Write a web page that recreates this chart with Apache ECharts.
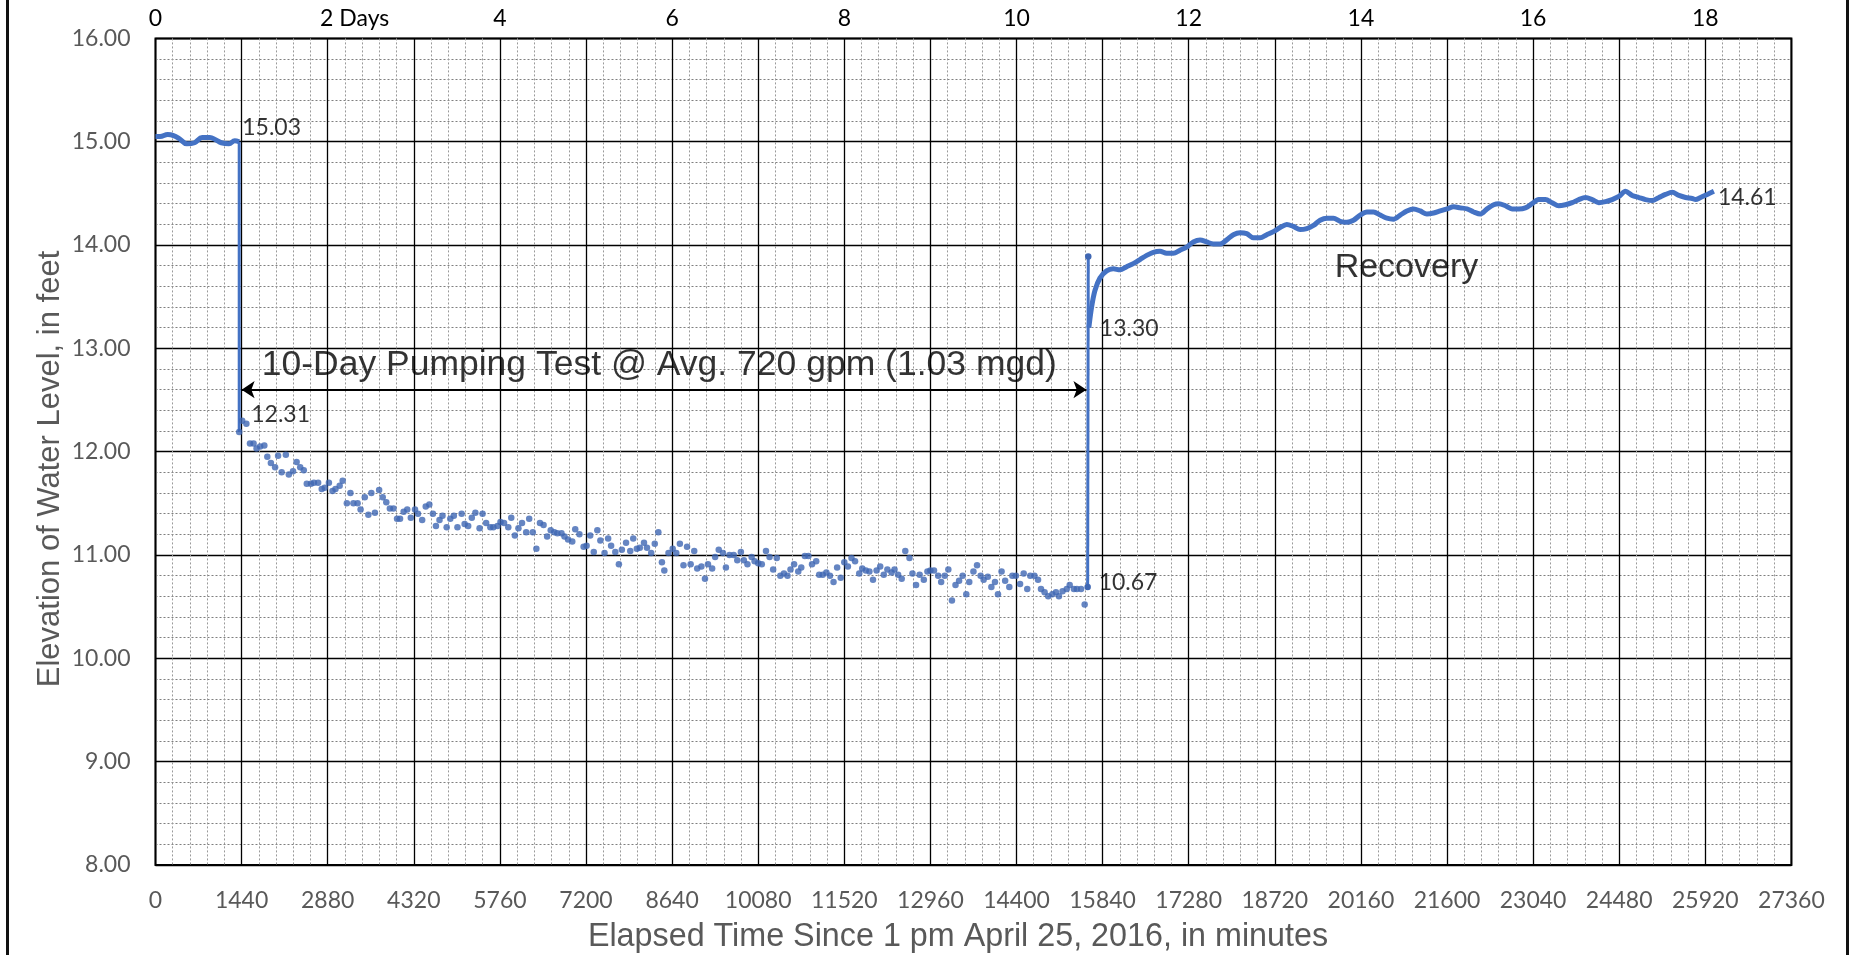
<!DOCTYPE html>
<html>
<head>
<meta charset="utf-8">
<title>Water level - 10-day pumping test</title>
<script src="https://cdn.jsdelivr.net/npm/echarts@6.0.0/dist/echarts.min.js"></script>
<style>
  html, body { margin: 0; padding: 0; background: #fff; }
  #chart { width: 1851px; height: 955px; }
</style>
</head>
<body>
<div id="chart"></div>
<script>
// elapsed minutes / water level elevation (ft)
var preTimes  = [0, 77, 205, 301, 397, 525, 653, 781, 909, 1005, 1101, 1229, 1325, 1400];
var preLevels = [15.05, 15.05, 15.07, 15.06, 15.03, 14.98, 14.99, 15.04, 15.04, 15.02, 14.99, 14.98, 15.01, 15.00];

var pumpTimes = [1400, 1450, 1520,
  1580, 1640, 1690, 1750, 1820, 1870, 1930, 2000, 2050, 2110, 2180, 2230, 2300, 2360, 2420, 2480,
  2530, 2600, 2650, 2720, 2780, 2830, 2900, 2960, 3010, 3080, 3130, 3200, 3260, 3310, 3380, 3430,
  3500, 3560, 3610, 3670, 3740, 3800, 3860, 3920, 3980, 4040, 4090, 4150, 4210, 4270, 4340, 4390,
  4460, 4520, 4580, 4640, 4690, 4750, 4800, 4870, 4930, 4990, 5050, 5120, 5170, 5230, 5290, 5350,
  5420, 5470, 5530, 5600, 5650, 5720, 5770, 5830, 5900, 5950, 6010, 6070, 6130, 6200, 6250, 6310,
  6370, 6430, 6490, 6550, 6610, 6670, 6720, 6790, 6840, 6900, 6970, 7020, 7090, 7160, 7210, 7270,
  7330, 7390, 7440, 7510, 7570, 7620, 7690, 7750, 7800, 7870, 7940, 7990, 8050, 8100, 8170, 8220,
  8290, 8350, 8410, 8470, 8510,
  8580, 8650, 8710, 8770, 8830, 8890, 8950, 9010, 9060, 9130, 9190, 9240, 9310, 9360, 9420, 9490,
  9540, 9600, 9670, 9730, 9790, 9840, 9900, 9970, 10020, 10080, 10140, 10210, 10270, 10330, 10390,
  10450, 10510, 10570, 10620, 10680, 10750, 10800, 10860, 10920, 10980, 11050, 11100, 11160, 11220,
  11280, 11340, 11400, 11460, 11520, 11580, 11640, 11700, 11770, 11820, 11880, 11940, 12000, 12060,
  12120, 12180, 12240, 12310, 12360, 12420, 12480, 12540, 12610, 12660, 12720, 12780, 12850, 12910,
  12960, 13020, 13090, 13140, 13200, 13260, 13320, 13380, 13440, 13500, 13560, 13610, 13680, 13740,
  13800, 13850, 13920, 13980, 14040, 14090, 14150, 14210, 14280, 14330, 14390, 14460, 14520, 14580,
  14630, 14700, 14760, 14810, 14870, 14930, 15000, 15060, 15110, 15170, 15240, 15290, 15360, 15410,
  15480, 15540];
var pumpLevels = [12.19, 12.30, 12.27,
  12.08, 12.08, 12.03, 12.05, 12.06, 11.95, 11.89, 11.85, 11.96, 11.80, 11.97, 11.78, 11.81, 11.90, 11.85, 11.82,
  11.69, 11.69, 11.70, 11.70, 11.64, 11.65, 11.70, 11.62, 11.64, 11.67, 11.72, 11.50, 11.60, 11.50, 11.50, 11.44,
  11.56, 11.39, 11.60, 11.41, 11.63, 11.56, 11.51, 11.45, 11.45, 11.35, 11.35, 11.42, 11.44, 11.36, 11.44, 11.40,
  11.34, 11.47, 11.49, 11.40, 11.28, 11.34, 11.38, 11.27, 11.35, 11.38, 11.27, 11.40, 11.30, 11.28, 11.36, 11.41,
  11.26, 11.40, 11.31, 11.27, 11.27, 11.28, 11.32, 11.31, 11.27, 11.36, 11.19, 11.26, 11.31, 11.22, 11.35, 11.22,
  11.06, 11.31, 11.29, 11.18, 11.24, 11.22, 11.21, 11.21, 11.18, 11.15, 11.13, 11.25, 11.20, 11.08, 11.09, 11.19,
  11.03, 11.24, 11.14, 11.02, 11.16, 11.09, 11.03, 10.91, 11.05, 11.12, 11.04, 11.16, 11.06, 11.07, 11.12, 11.07,
  11.02, 11.11, 11.22, 10.93, 10.85,
  11.02, 11.06, 11.02, 11.11, 10.90, 11.08, 10.91, 11.04, 10.87, 10.89, 10.77, 10.91, 10.87, 10.98, 11.05, 11.02,
  10.88, 11.00, 11.00, 10.95, 11.03, 10.95, 10.91, 10.98, 10.94, 10.92, 10.91, 11.04, 10.98, 10.86, 10.97,
  10.80, 10.82, 10.80, 10.86, 10.91, 10.84, 10.88, 10.99, 10.99, 10.91, 10.94, 10.81, 10.81, 10.83,
  10.80, 10.74, 10.88, 10.78, 10.93, 10.89, 10.97, 10.94, 10.82, 10.87, 10.85, 10.84, 10.76, 10.85,
  10.89, 10.81, 10.86, 10.83, 10.86, 10.81, 10.77, 11.04, 10.97, 10.82, 10.71, 10.81, 10.76, 10.84,
  10.85, 10.85, 10.80, 10.74, 10.80, 10.86, 10.56, 10.71, 10.75, 10.80, 10.62, 10.74, 10.84, 10.90,
  10.80, 10.76, 10.79, 10.69, 10.74, 10.62, 10.84, 10.75, 10.69, 10.80, 10.80, 10.72, 10.82, 10.67,
  10.80, 10.80, 10.76, 10.67, 10.64, 10.60, 10.62, 10.64, 10.60, 10.65, 10.67, 10.71, 10.67, 10.67,
  10.67, 10.52];

var jumpTimes  = [15590, 15600];
var jumpLevels = [10.69, 13.89];

var recTimes = [15610, 15656, 15712, 15795, 15907, 16019, 16130, 16242, 16353, 16465, 16577, 16688,
  16800, 16911, 17023, 17135, 17246, 17358, 17469, 17581, 17693, 17804, 17916, 18027, 18139, 18250,
  18362, 18474, 18585, 18697, 18809, 18920, 19032, 19144, 19255, 19367, 19478, 19590, 19702, 19813,
  19925, 20036, 20148, 20260, 20371, 20483, 20594, 20706, 20818, 20929, 21041, 21152, 21264, 21376,
  21487, 21600, 21712, 21823, 21935, 22046, 22158, 22270, 22381, 22465, 22577, 22688, 22800, 22911,
  23023, 23135, 23246, 23358, 23469, 23581, 23693, 23804, 23916, 24027, 24139, 24251, 24362, 24474,
  24585, 24697, 24809, 24920, 25032, 25144, 25255, 25367, 25479, 25590, 25702, 25757, 25841, 25953,
  26064];
var recLevels = [13.20, 13.40, 13.56, 13.68, 13.75, 13.77, 13.76, 13.79, 13.82, 13.86, 13.90, 13.93,
  13.94, 13.92, 13.92, 13.95, 13.98, 14.03, 14.05, 14.03, 14.01, 14.01, 14.05, 14.10, 14.12, 14.11,
  14.07, 14.07, 14.10, 14.13, 14.17, 14.20, 14.18, 14.15, 14.16, 14.19, 14.24, 14.26, 14.26, 14.23,
  14.22, 14.24, 14.29, 14.32, 14.32, 14.29, 14.26, 14.25, 14.29, 14.33, 14.35, 14.33, 14.30, 14.31,
  14.33, 14.35, 14.37, 14.36, 14.35, 14.32, 14.30, 14.35, 14.39, 14.40, 14.38, 14.35, 14.35, 14.36,
  14.40, 14.44, 14.44, 14.41, 14.38, 14.39, 14.41, 14.44, 14.46, 14.44, 14.41, 14.42, 14.44, 14.47,
  14.52, 14.48, 14.46, 14.44, 14.43, 14.46, 14.49, 14.51, 14.48, 14.46, 14.45, 14.44, 14.46, 14.49,
  14.52];

// value callouts (text as printed on the chart) and the points they belong to
var calloutTimes  = [1400, 1450, 15590, 15610, 26064];
var calloutLevels = [15.00, 12.30, 10.69, 13.20, 14.52];
var calloutTexts  = ['15.03', '12.31', '10.67', '13.30', '14.61'];

// text notes
var noteTimes  = [1776, 19721];
var noteLevels = [12.84, 13.78];
var noteTexts  = ['10-Day Pumping Test @ Avg. 720 gpm (1.03 mgd)', 'Recovery'];
var pumpingSpan = [1440, 15570];
var pumpingArrowLevel = 12.60;

// top axis (days) and bottom axis
var dayLabels = ['0', '2 Days', '4', '6', '8', '10', '12', '14', '16', '18'];
var minutesMax = 27360;

function zip(a, b) {
  var out = [];
  for (var i = 0; i < a.length; i++) out.push([a[i], b[i]]);
  return out;
}

var BLUE = '#4472C4';
var DOT = '#3f67b3';
var CAL = 'Lato, "Open Sans", sans-serif';
var ARIAL = '"Liberation Sans", Arial, sans-serif';

var labelOffsets = [[3, -14], [9, -6], [11, -4], [11, 1], [4, 6]];
var noteSizes = [35.5, 34];
var calloutData = [];
for (var i = 0; i < calloutTexts.length; i++) {
  calloutData.push({
    value: [calloutTimes[i], calloutLevels[i]],
    label: { offset: labelOffsets[i] }
  });
}
var noteData = [];
for (var j = 0; j < noteTexts.length; j++) {
  noteData.push({
    value: [noteTimes[j], noteLevels[j]],
    label: { fontSize: noteSizes[j] }
  });
}

var chart = echarts.init(document.getElementById('chart'));
var option = {
  animation: false,
  backgroundColor: '#fff',
  grid: {
    left: 155.5, top: 38.4, right: 59.6, bottom: 90,
    show: true, borderColor: '#000', borderWidth: 2,
    outerBoundsMode: 'none'
  },
  xAxis: [{
    type: 'value',
    position: 'bottom',
    min: 0, max: minutesMax, interval: 1440,
    axisLine: { show: false },
    axisTick: { show: false },
    axisLabel: {
      color: '#595959', fontFamily: CAL, fontSize: 23, margin: 24,
      formatter: function (v) { return String(v); }
    },
    splitLine: { show: true, lineStyle: { color: '#000', width: 1.3 } },
    minorTick: { show: false, splitNumber: 5 },
    minorSplitLine: { show: true, lineStyle: { color: '#9a9a9a', type: [2, 2], width: 1 } }
  }, {
    type: 'value',
    position: 'top',
    min: 0, max: minutesMax, interval: 2880,
    axisLine: { show: false },
    axisTick: { show: false },
    splitLine: { show: false },
    axisLabel: {
      color: '#000', fontFamily: CAL, fontSize: 23, margin: 8,
      formatter: function (v) {
        if (v % 2880 !== 0) return '';
        var s = dayLabels[v / 2880];
        if (s === undefined) return '';
        return s.indexOf(' ') > 0 ? '{pad|}' + s : s;
      },
      rich: { pad: { width: 54 } }
    }
  }],
  yAxis: {
    type: 'value',
    min: 8, max: 16, interval: 1,
    axisLine: { show: false },
    axisTick: { show: false },
    axisLabel: {
      color: '#595959', fontFamily: CAL, fontSize: 23, margin: 25,
      formatter: function (v) { return v.toFixed(2); }
    },
    splitLine: { show: true, lineStyle: { color: '#000', width: 1.3 } },
    minorTick: { show: false, splitNumber: 5 },
    minorSplitLine: { show: true, lineStyle: { color: '#7f7f7f', type: [2, 2], width: 1 } }
  },
  series: [{
    name: 'Before pumping',
    type: 'line',
    data: zip(preTimes, preLevels),
    showSymbol: false,
    smooth: 0.4,
    lineStyle: { color: BLUE, width: 5 },
    itemStyle: { color: BLUE },
    z: 4
  }, {
    name: 'Drawdown',
    type: 'line',
    data: [[preTimes[preTimes.length - 1], preLevels[preLevels.length - 1]], [pumpTimes[0], pumpLevels[0]]],
    showSymbol: false,
    lineStyle: { color: BLUE, width: 3 },
    z: 4
  }, {
    name: 'Pumping',
    type: 'scatter',
    data: zip(pumpTimes, pumpLevels),
    symbolSize: 6.5,
    itemStyle: { color: DOT },
    z: 5
  }, {
    name: 'Pump off',
    type: 'line',
    data: zip(jumpTimes, jumpLevels),
    symbol: 'circle',
    symbolSize: 6.5,
    showSymbol: true,
    lineStyle: { color: BLUE, width: 3 },
    itemStyle: { color: DOT },
    z: 4
  }, {
    name: 'Recovery',
    type: 'line',
    data: zip(recTimes, recLevels),
    showSymbol: false,
    smooth: 0.3,
    lineStyle: { color: BLUE, width: 5 },
    z: 4
  }, {
    name: 'Callouts',
    type: 'scatter',
    data: calloutData,
    symbolSize: 0,
    silent: true,
    label: {
      show: true, position: 'right', distance: 0,
      color: '#000', fontFamily: CAL, fontSize: 23,
      formatter: function (p) { return calloutTexts[p.dataIndex]; }
    },
    z: 6
  }, {
    name: 'Notes',
    type: 'scatter',
    data: noteData,
    symbolSize: 0,
    silent: true,
    label: {
      show: true, position: 'right', distance: 0,
      color: '#000', fontFamily: ARIAL, fontSize: 34,
      formatter: function (p) { return noteTexts[p.dataIndex]; }
    },
    markLine: {
      silent: true,
      symbol: ['arrow', 'arrow'],
      symbolSize: 13,
      label: { show: false },
      lineStyle: { color: '#000', width: 2, type: 'solid' },
      data: [[
        { coord: [pumpingSpan[0], pumpingArrowLevel] },
        { coord: [pumpingSpan[1], pumpingArrowLevel] }
      ]]
    },
    z: 6
  }],
  graphic: [
    { type: 'rect', shape: { x: 6, y: 0, width: 3, height: 955 }, style: { fill: '#111' } },
    { type: 'rect', shape: { x: 1846, y: 0, width: 3, height: 955 }, style: { fill: '#111' } },
    {
      type: 'text', x: 958, y: 937,
      style: {
        text: 'Elapsed Time Since 1 pm April 25, 2016, in minutes',
        font: '32.3px ' + ARIAL, fill: '#595959',
        align: 'center', verticalAlign: 'middle', textAlign: 'center', textVerticalAlign: 'middle'
      }
    },
    {
      type: 'text', x: 50, y: 469, rotation: Math.PI / 2,
      style: {
        text: 'Elevation of Water Level, in feet',
        font: '31px ' + ARIAL, fill: '#595959',
        align: 'center', verticalAlign: 'middle', textAlign: 'center', textVerticalAlign: 'middle'
      }
    }
  ]
};
chart.setOption(option);
</script>
</body>
</html>
